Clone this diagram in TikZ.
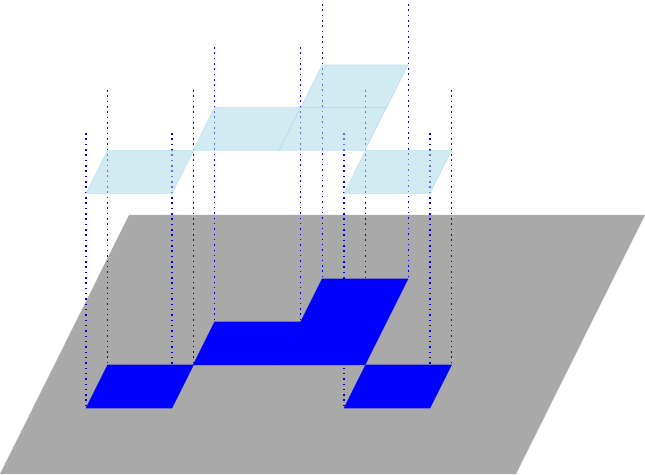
\documentclass[tikz,border=0pt]{standalone}
\tikzset{
  floorplane/.style={fill=darkgray,draw=none},
  dropline/.style={blue,line width=1.6pt,dash pattern=on 1.6pt off 3.73pt},
  shadowcell/.style={fill=blue,draw=blue,draw opacity=.6,line width=.5pt},
  floatcell/.style={fill=lightblue,fill opacity=.55,draw=lightblue,draw opacity=.7,line width=.5pt}
}
\definecolor{darkgray}{RGB}{169,169,169}
\definecolor{lightblue}{RGB}{173,216,230}
\newcommand{\cell}[3]{\path[#3] (#1,#2) -- ++(86,0) -- ++(21.5,43) -- ++(-86,0) -- cycle;}
\newcommand{\drop}[3]{\draw[dropline] (#1,#2) -- (#1,#3);}
\begin{document}
\begin{tikzpicture}[x=1pt,y=1pt]
\useasboundingbox (0,0) rectangle (645,474);
\path[floorplane] (0,0) -- (516,0) -- (645,259) -- (129,259) -- cycle;
% dotted verticals
\foreach \x/\t/\b in {85.8/341/66,171.8/341/66,107.5/384/109,193.5/384/109,
  214.5/427/152,300.5/427/152,322.5/470/194.5,408.5/470/194.5,
  344/341/66,430/341/66,365.5/384/109,451.5/384/109}{
  \drop{\x}{\t}{\b}
}
% shadow cells
\foreach \x/\y in {86/66,193/109,279/109,300.5/152,344/66}{
  \cell{\x}{\y}{shadowcell}
}
% floating cells
\foreach \x/\y in {86/280.5,193/323.5,279/323.5,300.5/366,344/280.5}{
  \cell{\x}{\y}{floatcell}
}
\end{tikzpicture}
\end{document}
